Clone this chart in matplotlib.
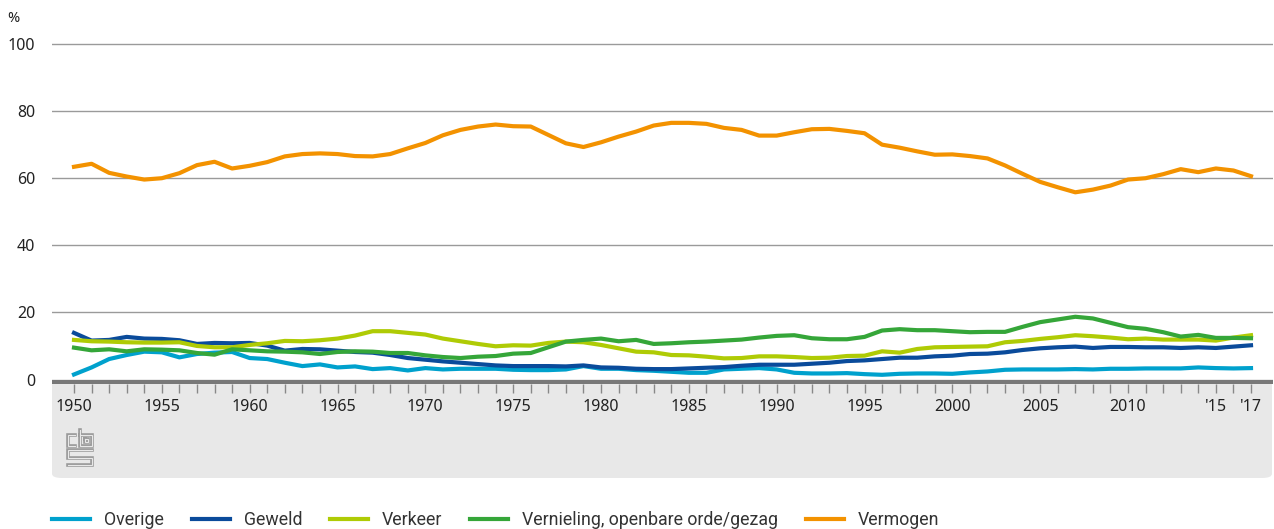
import matplotlib
matplotlib.use('Agg')
import matplotlib.pyplot as plt
import matplotlib.patches as mpatches
from matplotlib.lines import Line2D
import numpy as np

# Aandeel per misdrijfsoort (%), 1950-2017
jaren = list(range(1950, 2018))

overige = [1.5, 3.6, 6.1, 7.3, 8.3, 8.1, 6.6, 7.6, 8.0, 8.2,
           6.4, 6.1, 5.0, 4.0, 4.5, 3.6, 3.9, 3.1, 3.4, 2.7,
           3.4, 3.0, 3.2, 3.2, 3.2, 2.9, 2.8, 2.8, 3.0, 4.0,
           3.2, 3.2, 2.8, 2.6, 2.3, 2.0, 2.0, 3.0, 3.2, 3.4,
           3.0, 2.0, 1.8, 1.8, 1.9, 1.6, 1.4, 1.7, 1.8, 1.8,
           1.7, 2.1, 2.4, 2.9, 3.0, 3.0, 3.0, 3.1, 3.0, 3.2,
           3.2, 3.3, 3.3, 3.3, 3.6, 3.4, 3.3, 3.4]

geweld = [13.9, 11.6, 11.8, 12.7, 12.2, 12.1, 11.7, 10.6, 10.9, 10.8,
          10.9, 10.1, 8.6, 9.1, 9.0, 8.6, 8.2, 8.0, 7.3, 6.4,
          5.9, 5.4, 5.0, 4.6, 4.2, 4.0, 4.0, 4.0, 3.9, 4.2,
          3.6, 3.5, 3.2, 3.1, 3.1, 3.3, 3.5, 3.7, 4.1, 4.4,
          4.4, 4.4, 4.7, 5.0, 5.5, 5.7, 6.1, 6.5, 6.5, 6.9,
          7.1, 7.6, 7.7, 8.1, 8.8, 9.3, 9.6, 9.8, 9.4, 9.7,
          9.7, 9.6, 9.6, 9.4, 9.6, 9.4, 9.8, 10.2]

verkeer = [11.8, 11.4, 11.3, 11.1, 11.0, 11.0, 11.1, 10.0, 9.6, 9.6,
           10.3, 10.8, 11.5, 11.4, 11.7, 12.2, 13.1, 14.4, 14.4, 13.9,
           13.4, 12.2, 11.4, 10.6, 9.9, 10.2, 10.1, 10.9, 11.3, 11.1,
           10.3, 9.3, 8.3, 8.1, 7.3, 7.2, 6.8, 6.3, 6.4, 6.9,
           6.9, 6.7, 6.4, 6.5, 7.0, 7.1, 8.4, 8.0, 9.1, 9.6,
           9.7, 9.8, 9.9, 11.1, 11.5, 12.1, 12.6, 13.2, 12.9, 12.5,
           12.0, 12.2, 11.9, 11.9, 11.9, 11.6, 12.5, 13.2]

vernieling = [9.5, 8.7, 9.0, 8.4, 9.0, 8.9, 8.7, 7.9, 7.4, 9.0,
              8.7, 8.4, 8.3, 8.1, 7.6, 8.2, 8.4, 8.3, 7.9, 7.9,
              7.2, 6.7, 6.4, 6.8, 7.0, 7.7, 7.9, 9.6, 11.3, 11.8,
              12.2, 11.4, 11.8, 10.6, 10.8, 11.1, 11.3, 11.6, 11.9, 12.5,
              13.0, 13.2, 12.3, 12.0, 12.0, 12.7, 14.6, 15.0, 14.7, 14.7,
              14.4, 14.1, 14.2, 14.2, 15.7, 17.1, 17.9, 18.7, 18.2, 16.9,
              15.6, 15.1, 14.1, 12.8, 13.3, 12.4, 12.4, 12.3]

vermogen = [63.4, 64.3, 61.6, 60.5, 59.6, 60.0, 61.5, 63.9, 64.9, 62.9,
            63.7, 64.8, 66.5, 67.2, 67.4, 67.2, 66.6, 66.5, 67.2, 68.9,
            70.5, 72.8, 74.4, 75.4, 76.0, 75.5, 75.4, 72.9, 70.4, 69.3,
            70.7, 72.4, 73.9, 75.7, 76.5, 76.5, 76.2, 75.0, 74.4, 72.7,
            72.7, 73.7, 74.6, 74.7, 74.1, 73.4, 70.0, 69.1, 68.0, 67.0,
            67.1, 66.6, 65.9, 63.8, 61.3, 58.9, 57.3, 55.8, 56.6, 57.8,
            59.6, 60.0, 61.2, 62.7, 61.8, 62.9, 62.3, 60.6]

reeksen = ['Overige', 'Geweld', 'Verkeer', 'Vernieling, openbare orde/gezag', 'Vermogen']
kleuren = ['#00a1cd', '#0a4b9b', '#afcb05', '#35a639', '#f39200']
waarden = [overige, geweld, verkeer, vernieling, vermogen]

W, H = 1274, 529
fig = plt.figure(figsize=(W / 100, H / 100), dpi=100)


def px(x, y):
    # pixel (vanaf linksboven) naar figuurcoordinaten
    return x / W, 1 - y / H


# grijze onderbalk met afgeronde hoeken
balk = mpatches.FancyBboxPatch((52 / W, 1 - 478 / H), (1272 - 52) / W, (478 - 380) / H,
                               boxstyle='round,pad=0,rounding_size=0.008',
                               transform=fig.transFigure, facecolor='#e8e8e8',
                               edgecolor='none', zorder=-5)
fig.patches.append(balk)

ax_bottom = 1 - 384.3 / H
ax_top = 1 - 42 / H
ax = fig.add_axes([52 / W, ax_bottom, (1273 - 52) / W, ax_top - ax_bottom])
ax.set_zorder(2)
ax.patch.set_alpha(0)

for naam, kleur, y in zip(reeksen, kleuren, waarden):
    ax.plot(jaren, y, color=kleur, lw=3, label=naam, zorder=3)

ax.set_xlim(1950 - 22 / 17.567, 2017 + 22 / 17.567)
ax.set_ylim(-1.43, 100.6)

# dikke grijze nullijn
ax.axhspan(-1.43, 0, color='#787878', lw=0, zorder=2)

ax.set_yticks([0, 20, 40, 60, 80, 100])
ax.grid(axis='y', color='#9a9a9a', lw=1, zorder=1)
ax.set_axisbelow(True)
for s in ax.spines.values():
    s.set_visible(False)

labels = []
for j in jaren:
    if j == 2015:
        labels.append("'15")
    elif j == 2017:
        labels.append("'17")
    elif j % 5 == 0 and j <= 2010:
        labels.append(str(j))
    else:
        labels.append('')
ax.set_xticks(jaren)
ax.set_xticklabels(labels)
ax.tick_params(axis='x', length=6.5, width=1, color='#888888', pad=4,
               labelsize=11.5, labelcolor='#222222')
ax.tick_params(axis='y', length=0, pad=12, labelsize=11.5, labelcolor='#222222')
for t in ax.get_xticklabels() + ax.get_yticklabels():
    t.set_fontfamily('Noto Sans')

fig.text(*px(7, 18), '%', ha='left', va='center', fontsize=10.5,
         color='#222222', family='Noto Sans')

# cbs logo (eenvoudige lijntekening)
logo = [
    [(75, 435), (68, 435), (68, 446), (75, 446)],
    [(80, 430), (80, 446), (92, 446), (92, 435), (80, 435)],
    [(85, 439), (88, 439), (88, 442), (85, 442), (85, 439)],
    [(92, 450), (68, 450), (68, 457.5), (92, 457.5), (92, 465), (68, 465)],
]
for pad in logo:
    xs = [px(a, b)[0] for a, b in pad]
    ys = [px(a, b)[1] for a, b in pad]
    fig.add_artist(Line2D(xs, ys, transform=fig.transFigure, color='#9a9a9a',
                          lw=2.6, solid_joinstyle='miter'))
    fig.add_artist(Line2D(xs, ys, transform=fig.transFigure, color='#e8e8e8',
                          lw=0.8, solid_joinstyle='miter'))

leg = fig.legend(loc='center left', bbox_to_anchor=px(52, 520), ncol=5,
                 frameon=False, borderpad=0, borderaxespad=0,
                 handlelength=2.13, handletextpad=0.8, columnspacing=1.56,
                 prop={'family': 'Roboto', 'size': 12.8})
for t in leg.get_texts():
    t.set_color('#333333')

fig.savefig('out.png', dpi=100)
